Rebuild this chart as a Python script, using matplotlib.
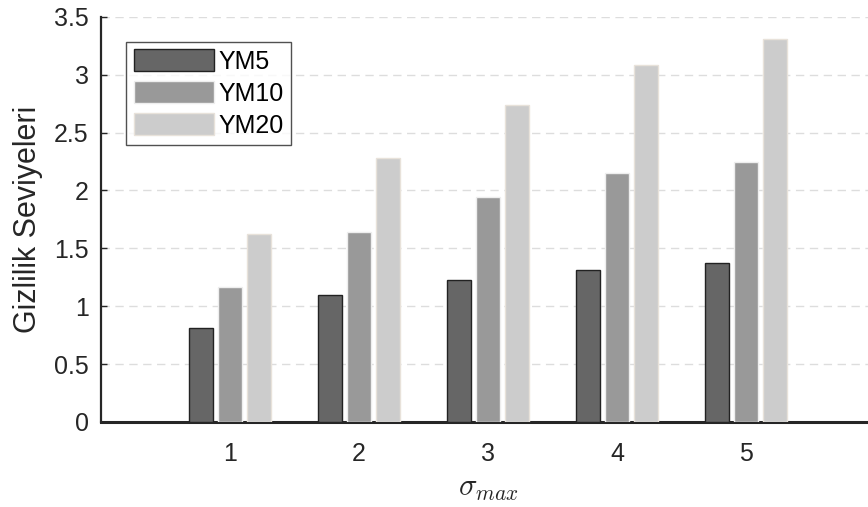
import matplotlib
matplotlib.use("Agg")
import matplotlib.pyplot as plt
import numpy as np

plt.rcParams['font.family'] = ['Liberation Sans', 'DejaVu Sans']
plt.rcParams['mathtext.fontset'] = 'cm'

# verileri
kategoriler = [1, 2, 3, 4, 5]
ym5 = [0.81, 1.10, 1.23, 1.31, 1.37]
ym10 = [1.17, 1.64, 1.94, 2.15, 2.25]
ym20 = [1.62, 2.28, 2.74, 3.08, 3.31]
seriler = ["YM5", "YM10", "YM20"]
yticks = [0, 0.5, 1, 1.5, 2, 2.5, 3, 3.5]

fig = plt.figure(figsize=(8.68, 5.07), dpi=100)
ax = fig.add_axes([0.1164, 0.1677, 0.892, 0.799])

x = np.array(kategoriler)
w = 0.186
off = 0.225
renkler = ['#666666', '#999999', '#cccccc']
kenar = ['#222222', '#eeeeee', '#e8e2da']
for i, (vals, ad) in enumerate(zip([ym5, ym10, ym20], seriler)):
    ax.bar(x + (i - 1) * off, vals, width=w, color=renkler[i],
           edgecolor=kenar[i], linewidth=1.0, label=ad, zorder=3)

ax.set_xlim(0, 6)
ax.set_ylim(0, 3.5)
ax.set_xticks(kategoriler)
ax.set_yticks(yticks)
ax.set_yticklabels(['0', '0.5', '1', '1.5', '2', '2.5', '3', '3.5'])
ax.tick_params(axis='both', labelsize=18, colors='#262626', direction='in', length=4, width=1)
ax.tick_params(axis='x', pad=14.5)
ax.tick_params(axis='y', pad=9)
ax.yaxis.grid(True, linestyle=(0, (6, 4)), color='#dddddd', linewidth=1, zorder=0)
ax.set_axisbelow(True)

for s in ['top', 'right']:
    ax.spines[s].set_visible(False)
ax.spines['left'].set_linewidth(1.6)
ax.spines['left'].set_color('#262626')
ax.spines['bottom'].set_linewidth(2.2)
ax.spines['bottom'].set_color('#262626')

ax.set_ylabel('Gizlilik Seviyeleri', fontsize=22, color='#262626', labelpad=8)
ax.set_xlabel(r'$\sigma_{max}$', fontsize=22, color='#262626', labelpad=5)

leg = ax.legend(loc='upper left', bbox_to_anchor=(0.0323, 0.9382), fontsize=18,
                frameon=True, fancybox=False, edgecolor='#262626',
                handlelength=3.2, handleheight=0.95, handletextpad=0.2,
                labelspacing=0.3, borderpad=0.3, borderaxespad=0)
leg.get_frame().set_linewidth(1.0)

fig.savefig('out.png', dpi=100)
